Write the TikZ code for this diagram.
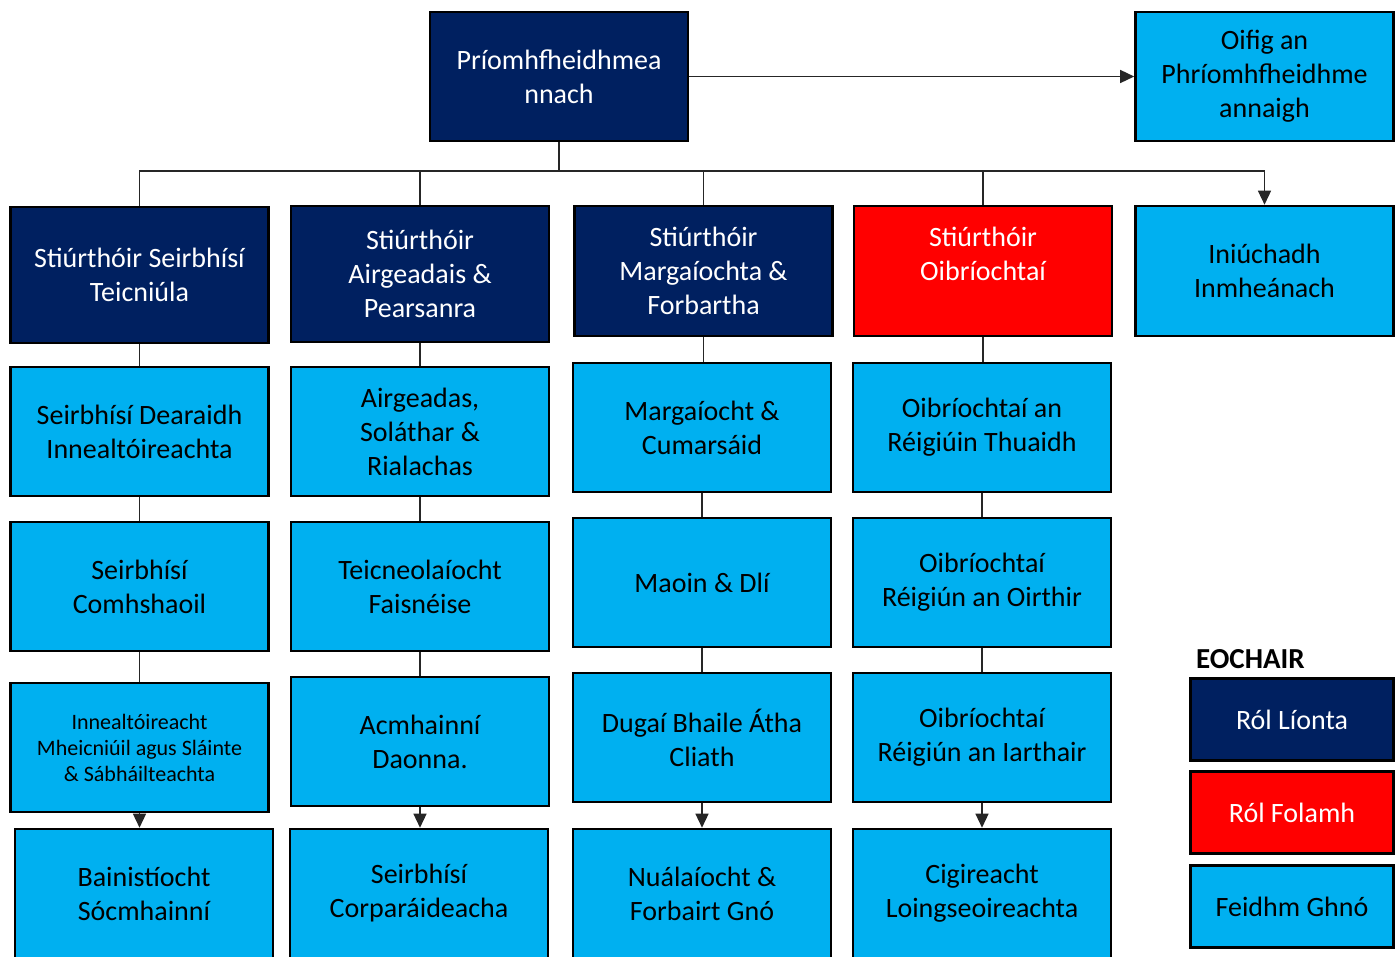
\documentclass[tikz,border=0pt]{standalone}
\usepackage{fontspec}
\setmainfont{Carlito}
\usetikzlibrary{arrows.meta}
\definecolor{navy}{HTML}{002060}
\definecolor{cyanb}{HTML}{00B0F0}
\definecolor{redb}{HTML}{FF0000}
\begin{document}
\begin{tikzpicture}[x=1pt,y=-1pt,
 box/.style={draw=black,line width=2.6pt,minimum width=258pt,minimum height=129pt,align=center,inner sep=0pt,font=\fontsize{28}{34}\selectfont},
 filled/.style={box,fill=navy,text=white},
 vacant/.style={box,fill=redb,text=white},
 func/.style={box,fill=cyanb,text=black},
 legbox/.style={box,minimum width=203pt,minimum height=82pt},
 conn/.style={draw=black!85,line width=1.4pt},
 arr/.style={conn,-{Triangle[width=13pt,length=14pt]}}]
\useasboundingbox (0,0) rectangle (1399,956);
\clip (0,0) rectangle (1399,956);
% top
\node[filled] (ceo) at (559,76.5) {Príomhfheidhmea\\nnach};
\node[func] (off) at (1264.5,76.5) {Oifig an\\Phríomhfheidhme\\annaigh};
% directors
\node[filled,minimum height=136pt] (d1) at (139.5,275) {Stiúrthóir Seirbhísí\\Teicniúla};
\node[filled,minimum height=136pt] (d2) at (420,274) {Stiúrthóir\\Airgeadais \&\\Pearsanra};
\node[filled,minimum height=130pt] (d3) at (703.5,271) {Stiúrthóir\\Margaíochta \&\\Forbartha};
\node[vacant,minimum height=130pt] (d4) at (983,271) {Stiúrthóir\\Oibríochtaí\\~};
\node[func,minimum height=130pt] (d5) at (1264.5,271) {Iniúchadh\\Inmheánach};
% row 2
\node[func] (a1) at (139.5,431.5) {Seirbhísí Dearaidh\\Innealtóireachta};
\node[func] (a2) at (420,431.5) {Airgeadas,\\Soláthar \&\\Rialachas};
\node[func] (a3) at (702,427.5) {Margaíocht \&\\Cumarsáid};
\node[func] (a4) at (982,427.5) {Oibríochtaí an\\Réigiúin Thuaidh};
% row 3
\node[func] (b1) at (139.5,586.5) {Seirbhísí\\Comhshaoil};
\node[func] (b2) at (420,586.5) {Teicneolaíocht\\Faisnéise};
\node[func] (b3) at (702,582.5) {Maoin \& Dlí};
\node[func] (b4) at (982,582.5) {Oibríochtaí\\Réigiún an Oirthir};
% row 4
\node[func,font=\fontsize{22}{26}\selectfont] (c1) at (139.5,747.5) {Innealtóireacht\\Mheicniúil agus Sláinte\\\& Sábháilteachta};
\node[func] (c2) at (420,741.5) {Acmhainní\\Daonna.};
\node[func] (c3) at (702,737.5) {Dugaí Bhaile Átha\\Cliath};
\node[func] (c4) at (982,737.5) {Oibríochtaí\\Réigiún an Iarthair};
% row 5
\node[func] (e1) at (144,893.5) {Bainistíocht\\Sócmhainní};
\node[func] (e2) at (419,893.5) {Seirbhísí\\Corparáideacha};
\node[func] (e3) at (702,893.5) {Nuálaíocht \&\\Forbairt Gnó};
\node[func] (e4) at (982,893.5) {Cigireacht\\Loingseoireachta};
% legend
\node[anchor=base west,inner sep=0pt,font=\fontsize{29}{32}\selectfont\bfseries] (key) at (1196,668) {EOCHAIR};
\node[filled,legbox] (l1) at (1292,719.5) {Ról Líonta};
\node[vacant,legbox] (l2) at (1292,812.5) {Ról Folamh};
\node[func,legbox] (l3) at (1292,906.5) {Feidhm Ghnó};
% connectors
\draw[arr] (ceo.east) -- (off.west);
\coordinate (bus) at (559,171);
\draw[conn] (ceo.south) -- (bus);
\draw[conn] (bus) -| (d1.north);
\draw[conn] (bus) -| (d2.north);
\draw[conn] (bus) -| (d3.north);
\draw[conn] (bus) -| (d4.north);
\draw[arr] (bus) -| (d5.north);
\foreach \c in {1,2,3,4}{
  \draw[conn] (d\c.south) -- (d\c.south |- a\c.north);
  \draw[conn] (a\c.south) -- (a\c.south |- b\c.north);
  \draw[conn] (b\c.south) -- (b\c.south |- c\c.north);
  \draw[arr] (c\c.south) -- (c\c.south |- e\c.north);
}
\end{tikzpicture}
\end{document}
